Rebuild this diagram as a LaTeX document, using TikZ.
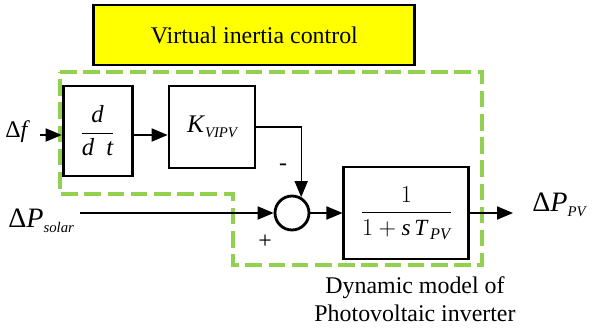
\documentclass[tikz,border=0pt]{standalone}
\usepackage{amsmath}
\usepackage{fontspec}
\setmainfont{Liberation Serif}
\usetikzlibrary{arrows.meta,positioning}
\definecolor{dashgreen}{RGB}{146,208,80}
\definecolor{titleyellow}{RGB}{255,255,0}
\newcommand{\lowsub}[1]{\raisebox{-4pt}{\fontsize{10.5}{12}\selectfont\itshape #1}}

\begin{document}
\begin{tikzpicture}[scale=1.0,
  blk/.style={draw,line width=2pt,inner sep=0pt},
  sig/.style={line width=0.8pt,-{Triangle[length=0.4cm,width=0.33cm]}},
  lbl/.style={font=\fontsize{17}{20}\selectfont,inner sep=0pt}]
\useasboundingbox (0,0) rectangle (14.825,8.275);
% dashed outline of the inverter model
\draw[dashgreen,line width=2.85pt,dash pattern=on 11.8pt off 4.7pt]
  (1.5,6.475) -- (12.05,6.475) -- (12.05,1.65) -- (5.825,1.65)
  -- (5.825,3.425) -- (1.5,3.425) -- cycle;
\node[blk,fill=titleyellow,minimum width=8.025cm,minimum height=1.5cm,
  font=\fontsize{17}{20}\selectfont] (title) at (6.36,7.4) {Virtual inertia control};
\node[blk,minimum width=1.725cm,minimum height=2.25cm,font=\fontsize{17.5}{20}\selectfont]
  (ddt) at (2.44,5.0) {$\dfrac{\textit{d}}{\textit{d\enspace t}}$};
\node[blk,minimum width=2.15cm,minimum height=2.05cm,font=\fontsize{18}{20}\selectfont]
  (kvi) at (5.3,5.1) {\textit{K}\lowsub{VIPV}};
\node[blk,circle,minimum size=0.85cm] (sum) at (7.3,2.95) {};
\node[blk,minimum width=3.125cm,minimum height=2.3cm,font=\fontsize{16.5}{19}\selectfont]
  (pv) at (10.16,2.95) {$\dfrac{1}{1+\textit{s\,T}_{\,\textit{PV}}}$};
\coordinate (fin) at (1.0,4.9);
\coordinate (sin) at (2.0,2.95);
\coordinate (pout) at (12.825,2.95);
\node[lbl,anchor=base west] (df) at (0.125,4.85) {Δ\textit{f}};
\node[lbl,anchor=base west,font=\fontsize{20}{22}\selectfont] (psolar) at (0.2,2.6) {Δ\textit{P}\lowsub{solar}};
\node[lbl,anchor=base west,font=\fontsize{20}{22}\selectfont] (ppv) at (13.3,3.0) {Δ\textit{P}\lowsub{PV}};
\node[lbl] (minus) at (7.075,4.1) {-};
\node[lbl] (plus) at (6.625,2.225) {+};
\node[lbl,align=center] (cap) at (10.375,0.8) {Dynamic model of\\Photovoltaic inverter};
\draw[sig] (fin) -- (fin -| ddt.west);
\draw[sig] (fin -| ddt.east) -- (fin -| kvi.west);
\draw[sig] (kvi.east) -| (sum.60);
\draw[sig] (sin) -- (sum.west);
\draw[sig] (sum.east) -- (pv.west);
\draw[sig] (pv.east) -- (pout);
\end{tikzpicture}
\end{document}
